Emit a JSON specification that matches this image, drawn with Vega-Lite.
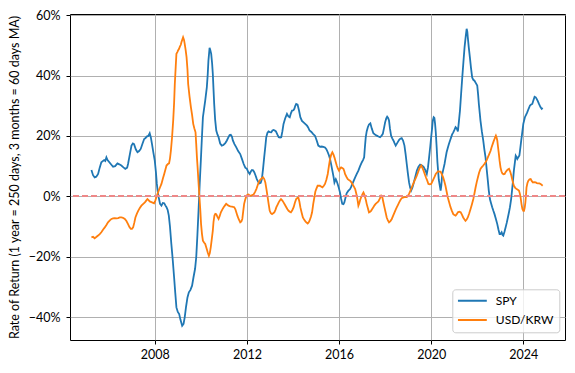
{
"$schema": "https://vega.github.io/schema/vega-lite/v6.json",
"width": 495,
"height": 326,
"autosize": {"type": "none"},
"padding": {"left": 70, "top": 14, "right": 10, "bottom": 33},
"background": "white",
"config": {
  "font": "Lato",
  "view": {"stroke": "black", "strokeWidth": 1},
  "axis": {"labelFont": "Lato", "labelFontSize": 12.5, "labelColor": "black", "titleFont": "Lato", "titleFontSize": 12.5, "titleFontWeight": "normal", "titleColor": "black", "tickColor": "black", "tickSize": 4, "tickWidth": 1, "domain": false, "gridColor": "#b0b0b0", "gridWidth": 1},
  "legend": {"orient": "none", "legendX": 382.3, "legendY": 275.3, "symbolType": "stroke", "symbolSize": 841, "symbolStrokeWidth": 2, "clipHeight": 12, "symbolOffset": -1, "labelOffset": 8, "labelAlign": "left", "labelBaseline": "middle", "labelFont": "Lato", "labelFontSize": 12, "labelColor": "black", "padding": 5.5, "rowPadding": 7.3, "strokeColor": "#cccccc", "fillColor": "rgba(255,255,255,0.8)", "cornerRadius": 3}
},
"data": {"values": [
{"year":2005.25,"ret":8.7,"series":"SPY"},{"year":2005.32,"ret":7.0,"series":"SPY"},{"year":2005.39,"ret":6.3,"series":"SPY"},{"year":2005.46,"ret":6.5,"series":"SPY"},{"year":2005.54,"ret":7.4,"series":"SPY"},{"year":2005.61,"ret":9.5,"series":"SPY"},{"year":2005.68,"ret":11.3,"series":"SPY"},{"year":2005.80,"ret":12.0,"series":"SPY"},{"year":2005.85,"ret":11.7,"series":"SPY"},{"year":2005.90,"ret":12.9,"series":"SPY"},{"year":2005.95,"ret":12.0,"series":"SPY"},{"year":2006.09,"ret":10.7,"series":"SPY"},{"year":2006.19,"ret":9.8,"series":"SPY"},{"year":2006.28,"ret":10.0,"series":"SPY"},{"year":2006.38,"ret":10.9,"series":"SPY"},{"year":2006.46,"ret":10.6,"series":"SPY"},{"year":2006.55,"ret":10.2,"series":"SPY"},{"year":2006.64,"ret":9.6,"series":"SPY"},{"year":2006.72,"ret":9.1,"series":"SPY"},{"year":2006.80,"ret":9.5,"series":"SPY"},{"year":2006.84,"ret":10.7,"series":"SPY"},{"year":2006.92,"ret":14.0,"series":"SPY"},{"year":2006.99,"ret":16.8,"series":"SPY"},{"year":2007.05,"ret":17.5,"series":"SPY"},{"year":2007.10,"ret":17.3,"series":"SPY"},{"year":2007.18,"ret":15.5,"series":"SPY"},{"year":2007.25,"ret":14.6,"series":"SPY"},{"year":2007.32,"ret":15.0,"series":"SPY"},{"year":2007.39,"ret":15.7,"series":"SPY"},{"year":2007.47,"ret":17.5,"series":"SPY"},{"year":2007.54,"ret":19.0,"series":"SPY"},{"year":2007.60,"ret":19.3,"series":"SPY"},{"year":2007.65,"ret":19.8,"series":"SPY"},{"year":2007.72,"ret":20.0,"series":"SPY"},{"year":2007.78,"ret":20.9,"series":"SPY"},{"year":2007.83,"ret":19.5,"series":"SPY"},{"year":2007.88,"ret":17.3,"series":"SPY"},{"year":2007.94,"ret":14.5,"series":"SPY"},{"year":2008.00,"ret":11.8,"series":"SPY"},{"year":2008.05,"ret":8.0,"series":"SPY"},{"year":2008.09,"ret":4.1,"series":"SPY"},{"year":2008.13,"ret":1.5,"series":"SPY"},{"year":2008.17,"ret":-0.3,"series":"SPY"},{"year":2008.23,"ret":-2.5,"series":"SPY"},{"year":2008.29,"ret":-3.1,"series":"SPY"},{"year":2008.35,"ret":-2.2,"series":"SPY"},{"year":2008.41,"ret":-2.3,"series":"SPY"},{"year":2008.46,"ret":-3.0,"series":"SPY"},{"year":2008.51,"ret":-3.6,"series":"SPY"},{"year":2008.56,"ret":-4.5,"series":"SPY"},{"year":2008.61,"ret":-6.4,"series":"SPY"},{"year":2008.66,"ret":-10.0,"series":"SPY"},{"year":2008.72,"ret":-15.8,"series":"SPY"},{"year":2008.78,"ret":-21.0,"series":"SPY"},{"year":2008.84,"ret":-26.9,"series":"SPY"},{"year":2008.89,"ret":-32.0,"series":"SPY"},{"year":2008.94,"ret":-36.8,"series":"SPY"},{"year":2009.00,"ret":-38.3,"series":"SPY"},{"year":2009.06,"ret":-39.0,"series":"SPY"},{"year":2009.12,"ret":-41.0,"series":"SPY"},{"year":2009.19,"ret":-42.9,"series":"SPY"},{"year":2009.25,"ret":-42.3,"series":"SPY"},{"year":2009.30,"ret":-40.1,"series":"SPY"},{"year":2009.36,"ret":-36.5,"series":"SPY"},{"year":2009.42,"ret":-33.5,"series":"SPY"},{"year":2009.48,"ret":-31.8,"series":"SPY"},{"year":2009.55,"ret":-31.0,"series":"SPY"},{"year":2009.62,"ret":-29.6,"series":"SPY"},{"year":2009.68,"ret":-26.9,"series":"SPY"},{"year":2009.75,"ret":-24.0,"series":"SPY"},{"year":2009.80,"ret":-20.2,"series":"SPY"},{"year":2009.85,"ret":-13.0,"series":"SPY"},{"year":2009.90,"ret":-4.8,"series":"SPY"},{"year":2009.95,"ret":4.0,"series":"SPY"},{"year":2010.00,"ret":11.8,"series":"SPY"},{"year":2010.05,"ret":20.0,"series":"SPY"},{"year":2010.09,"ret":26.2,"series":"SPY"},{"year":2010.14,"ret":29.0,"series":"SPY"},{"year":2010.19,"ret":31.7,"series":"SPY"},{"year":2010.26,"ret":36.1,"series":"SPY"},{"year":2010.30,"ret":40.5,"series":"SPY"},{"year":2010.33,"ret":45.0,"series":"SPY"},{"year":2010.38,"ret":49.2,"series":"SPY"},{"year":2010.41,"ret":48.5,"series":"SPY"},{"year":2010.45,"ret":47.2,"series":"SPY"},{"year":2010.49,"ret":44.0,"series":"SPY"},{"year":2010.52,"ret":40.6,"series":"SPY"},{"year":2010.55,"ret":35.5,"series":"SPY"},{"year":2010.58,"ret":30.6,"series":"SPY"},{"year":2010.62,"ret":25.5,"series":"SPY"},{"year":2010.67,"ret":21.8,"series":"SPY"},{"year":2010.72,"ret":20.5,"series":"SPY"},{"year":2010.77,"ret":19.6,"series":"SPY"},{"year":2010.84,"ret":17.5,"series":"SPY"},{"year":2010.91,"ret":16.8,"series":"SPY"},{"year":2010.98,"ret":17.0,"series":"SPY"},{"year":2011.06,"ret":17.6,"series":"SPY"},{"year":2011.13,"ret":18.5,"series":"SPY"},{"year":2011.20,"ret":19.6,"series":"SPY"},{"year":2011.25,"ret":20.3,"series":"SPY"},{"year":2011.30,"ret":20.4,"series":"SPY"},{"year":2011.35,"ret":19.8,"series":"SPY"},{"year":2011.39,"ret":18.5,"series":"SPY"},{"year":2011.46,"ret":17.3,"series":"SPY"},{"year":2011.54,"ret":16.2,"series":"SPY"},{"year":2011.62,"ret":15.0,"series":"SPY"},{"year":2011.71,"ret":14.0,"series":"SPY"},{"year":2011.78,"ret":12.5,"series":"SPY"},{"year":2011.86,"ret":10.7,"series":"SPY"},{"year":2011.93,"ret":9.5,"series":"SPY"},{"year":2012.00,"ret":9.1,"series":"SPY"},{"year":2012.06,"ret":8.0,"series":"SPY"},{"year":2012.12,"ret":7.4,"series":"SPY"},{"year":2012.17,"ret":8.2,"series":"SPY"},{"year":2012.22,"ret":8.7,"series":"SPY"},{"year":2012.27,"ret":8.6,"series":"SPY"},{"year":2012.32,"ret":8.0,"series":"SPY"},{"year":2012.38,"ret":6.8,"series":"SPY"},{"year":2012.43,"ret":5.7,"series":"SPY"},{"year":2012.49,"ret":4.8,"series":"SPY"},{"year":2012.54,"ret":4.3,"series":"SPY"},{"year":2012.60,"ret":4.5,"series":"SPY"},{"year":2012.65,"ret":5.7,"series":"SPY"},{"year":2012.70,"ret":9.0,"series":"SPY"},{"year":2012.75,"ret":12.9,"series":"SPY"},{"year":2012.80,"ret":16.5,"series":"SPY"},{"year":2012.84,"ret":19.6,"series":"SPY"},{"year":2012.89,"ret":21.0,"series":"SPY"},{"year":2012.94,"ret":21.5,"series":"SPY"},{"year":2013.00,"ret":21.3,"series":"SPY"},{"year":2013.06,"ret":21.2,"series":"SPY"},{"year":2013.11,"ret":21.8,"series":"SPY"},{"year":2013.16,"ret":22.0,"series":"SPY"},{"year":2013.21,"ret":21.8,"series":"SPY"},{"year":2013.26,"ret":21.5,"series":"SPY"},{"year":2013.32,"ret":20.5,"series":"SPY"},{"year":2013.38,"ret":19.6,"series":"SPY"},{"year":2013.44,"ret":19.5,"series":"SPY"},{"year":2013.49,"ret":19.6,"series":"SPY"},{"year":2013.54,"ret":21.5,"series":"SPY"},{"year":2013.59,"ret":24.0,"series":"SPY"},{"year":2013.66,"ret":25.8,"series":"SPY"},{"year":2013.74,"ret":27.3,"series":"SPY"},{"year":2013.80,"ret":26.5,"series":"SPY"},{"year":2013.86,"ret":26.2,"series":"SPY"},{"year":2013.91,"ret":27.5,"series":"SPY"},{"year":2013.96,"ret":28.4,"series":"SPY"},{"year":2014.02,"ret":28.5,"series":"SPY"},{"year":2014.06,"ret":29.0,"series":"SPY"},{"year":2014.10,"ret":30.0,"series":"SPY"},{"year":2014.14,"ret":30.6,"series":"SPY"},{"year":2014.20,"ret":30.4,"series":"SPY"},{"year":2014.26,"ret":28.5,"series":"SPY"},{"year":2014.32,"ret":26.2,"series":"SPY"},{"year":2014.39,"ret":25.0,"series":"SPY"},{"year":2014.46,"ret":24.5,"series":"SPY"},{"year":2014.53,"ret":24.0,"series":"SPY"},{"year":2014.61,"ret":23.4,"series":"SPY"},{"year":2014.66,"ret":22.8,"series":"SPY"},{"year":2014.72,"ret":21.8,"series":"SPY"},{"year":2014.80,"ret":21.3,"series":"SPY"},{"year":2014.87,"ret":20.7,"series":"SPY"},{"year":2014.96,"ret":20.0,"series":"SPY"},{"year":2015.03,"ret":18.5,"series":"SPY"},{"year":2015.10,"ret":16.8,"series":"SPY"},{"year":2015.18,"ret":16.4,"series":"SPY"},{"year":2015.25,"ret":16.5,"series":"SPY"},{"year":2015.32,"ret":16.4,"series":"SPY"},{"year":2015.39,"ret":16.2,"series":"SPY"},{"year":2015.45,"ret":15.6,"series":"SPY"},{"year":2015.51,"ret":14.6,"series":"SPY"},{"year":2015.56,"ret":13.6,"series":"SPY"},{"year":2015.61,"ret":12.4,"series":"SPY"},{"year":2015.66,"ret":10.5,"series":"SPY"},{"year":2015.71,"ret":8.5,"series":"SPY"},{"year":2015.76,"ret":6.5,"series":"SPY"},{"year":2015.80,"ret":4.6,"series":"SPY"},{"year":2015.83,"ret":5.2,"series":"SPY"},{"year":2015.86,"ret":5.7,"series":"SPY"},{"year":2015.90,"ret":5.0,"series":"SPY"},{"year":2015.94,"ret":4.1,"series":"SPY"},{"year":2015.99,"ret":2.8,"series":"SPY"},{"year":2016.04,"ret":1.3,"series":"SPY"},{"year":2016.09,"ret":-0.8,"series":"SPY"},{"year":2016.14,"ret":-2.5,"series":"SPY"},{"year":2016.19,"ret":-2.6,"series":"SPY"},{"year":2016.23,"ret":-2.0,"series":"SPY"},{"year":2016.28,"ret":-0.5,"series":"SPY"},{"year":2016.33,"ret":1.0,"series":"SPY"},{"year":2016.40,"ret":1.8,"series":"SPY"},{"year":2016.48,"ret":2.4,"series":"SPY"},{"year":2016.53,"ret":3.2,"series":"SPY"},{"year":2016.58,"ret":4.1,"series":"SPY"},{"year":2016.64,"ret":5.2,"series":"SPY"},{"year":2016.70,"ret":6.3,"series":"SPY"},{"year":2016.77,"ret":7.4,"series":"SPY"},{"year":2016.84,"ret":8.5,"series":"SPY"},{"year":2016.91,"ret":9.9,"series":"SPY"},{"year":2016.99,"ret":11.3,"series":"SPY"},{"year":2017.04,"ret":12.0,"series":"SPY"},{"year":2017.09,"ret":12.9,"series":"SPY"},{"year":2017.12,"ret":16.0,"series":"SPY"},{"year":2017.16,"ret":19.6,"series":"SPY"},{"year":2017.20,"ret":21.5,"series":"SPY"},{"year":2017.25,"ret":22.9,"series":"SPY"},{"year":2017.30,"ret":23.8,"series":"SPY"},{"year":2017.36,"ret":24.2,"series":"SPY"},{"year":2017.42,"ret":22.5,"series":"SPY"},{"year":2017.49,"ret":20.9,"series":"SPY"},{"year":2017.56,"ret":20.5,"series":"SPY"},{"year":2017.64,"ret":20.1,"series":"SPY"},{"year":2017.71,"ret":19.8,"series":"SPY"},{"year":2017.78,"ret":19.6,"series":"SPY"},{"year":2017.84,"ret":20.0,"series":"SPY"},{"year":2017.90,"ret":20.7,"series":"SPY"},{"year":2017.95,"ret":22.5,"series":"SPY"},{"year":2018.00,"ret":24.5,"series":"SPY"},{"year":2018.05,"ret":25.8,"series":"SPY"},{"year":2018.09,"ret":26.4,"series":"SPY"},{"year":2018.13,"ret":26.0,"series":"SPY"},{"year":2018.17,"ret":25.1,"series":"SPY"},{"year":2018.21,"ret":22.5,"series":"SPY"},{"year":2018.26,"ret":20.1,"series":"SPY"},{"year":2018.31,"ret":19.2,"series":"SPY"},{"year":2018.36,"ret":18.5,"series":"SPY"},{"year":2018.41,"ret":17.6,"series":"SPY"},{"year":2018.46,"ret":16.8,"series":"SPY"},{"year":2018.53,"ret":17.7,"series":"SPY"},{"year":2018.61,"ret":18.7,"series":"SPY"},{"year":2018.66,"ret":19.1,"series":"SPY"},{"year":2018.72,"ret":19.3,"series":"SPY"},{"year":2018.78,"ret":18.5,"series":"SPY"},{"year":2018.84,"ret":16.8,"series":"SPY"},{"year":2018.89,"ret":14.0,"series":"SPY"},{"year":2018.94,"ret":10.7,"series":"SPY"},{"year":2018.99,"ret":7.5,"series":"SPY"},{"year":2019.04,"ret":4.6,"series":"SPY"},{"year":2019.09,"ret":2.8,"series":"SPY"},{"year":2019.13,"ret":1.9,"series":"SPY"},{"year":2019.18,"ret":2.8,"series":"SPY"},{"year":2019.23,"ret":4.1,"series":"SPY"},{"year":2019.30,"ret":6.2,"series":"SPY"},{"year":2019.38,"ret":8.5,"series":"SPY"},{"year":2019.45,"ret":9.8,"series":"SPY"},{"year":2019.52,"ret":10.5,"series":"SPY"},{"year":2019.60,"ret":10.2,"series":"SPY"},{"year":2019.67,"ret":9.8,"series":"SPY"},{"year":2019.74,"ret":8.8,"series":"SPY"},{"year":2019.81,"ret":7.4,"series":"SPY"},{"year":2019.86,"ret":9.5,"series":"SPY"},{"year":2019.91,"ret":12.9,"series":"SPY"},{"year":2019.96,"ret":16.5,"series":"SPY"},{"year":2020.00,"ret":19.6,"series":"SPY"},{"year":2020.04,"ret":22.5,"series":"SPY"},{"year":2020.07,"ret":25.1,"series":"SPY"},{"year":2020.11,"ret":26.2,"series":"SPY"},{"year":2020.14,"ret":26.0,"series":"SPY"},{"year":2020.17,"ret":24.0,"series":"SPY"},{"year":2020.20,"ret":21.2,"series":"SPY"},{"year":2020.24,"ret":16.0,"series":"SPY"},{"year":2020.27,"ret":11.5,"series":"SPY"},{"year":2020.33,"ret":5.5,"series":"SPY"},{"year":2020.41,"ret":1.9,"series":"SPY"},{"year":2020.44,"ret":3.5,"series":"SPY"},{"year":2020.48,"ret":7.4,"series":"SPY"},{"year":2020.53,"ret":9.0,"series":"SPY"},{"year":2020.58,"ret":10.7,"series":"SPY"},{"year":2020.62,"ret":12.5,"series":"SPY"},{"year":2020.67,"ret":14.6,"series":"SPY"},{"year":2020.72,"ret":16.0,"series":"SPY"},{"year":2020.77,"ret":17.3,"series":"SPY"},{"year":2020.82,"ret":18.5,"series":"SPY"},{"year":2020.87,"ret":19.6,"series":"SPY"},{"year":2020.91,"ret":20.5,"series":"SPY"},{"year":2020.96,"ret":21.2,"series":"SPY"},{"year":2021.01,"ret":22.0,"series":"SPY"},{"year":2021.06,"ret":22.9,"series":"SPY"},{"year":2021.11,"ret":22.5,"series":"SPY"},{"year":2021.16,"ret":21.5,"series":"SPY"},{"year":2021.20,"ret":24.5,"series":"SPY"},{"year":2021.25,"ret":28.4,"series":"SPY"},{"year":2021.30,"ret":34.0,"series":"SPY"},{"year":2021.35,"ret":39.4,"series":"SPY"},{"year":2021.40,"ret":44.5,"series":"SPY"},{"year":2021.45,"ret":49.4,"series":"SPY"},{"year":2021.50,"ret":53.0,"series":"SPY"},{"year":2021.54,"ret":55.5,"series":"SPY"},{"year":2021.57,"ret":54.5,"series":"SPY"},{"year":2021.59,"ret":52.7,"series":"SPY"},{"year":2021.63,"ret":49.5,"series":"SPY"},{"year":2021.68,"ret":46.1,"series":"SPY"},{"year":2021.73,"ret":42.5,"series":"SPY"},{"year":2021.78,"ret":39.4,"series":"SPY"},{"year":2021.83,"ret":38.6,"series":"SPY"},{"year":2021.88,"ret":38.3,"series":"SPY"},{"year":2021.94,"ret":37.5,"series":"SPY"},{"year":2022.00,"ret":36.7,"series":"SPY"},{"year":2022.04,"ret":33.5,"series":"SPY"},{"year":2022.07,"ret":30.6,"series":"SPY"},{"year":2022.11,"ret":27.5,"series":"SPY"},{"year":2022.14,"ret":25.1,"series":"SPY"},{"year":2022.20,"ret":21.5,"series":"SPY"},{"year":2022.26,"ret":18.5,"series":"SPY"},{"year":2022.31,"ret":15.5,"series":"SPY"},{"year":2022.36,"ret":12.9,"series":"SPY"},{"year":2022.41,"ret":9.0,"series":"SPY"},{"year":2022.46,"ret":5.2,"series":"SPY"},{"year":2022.50,"ret":2.0,"series":"SPY"},{"year":2022.55,"ret":-0.9,"series":"SPY"},{"year":2022.60,"ret":-2.3,"series":"SPY"},{"year":2022.65,"ret":-3.6,"series":"SPY"},{"year":2022.70,"ret":-4.8,"series":"SPY"},{"year":2022.75,"ret":-5.9,"series":"SPY"},{"year":2022.81,"ret":-7.5,"series":"SPY"},{"year":2022.87,"ret":-9.2,"series":"SPY"},{"year":2022.92,"ret":-11.0,"series":"SPY"},{"year":2022.97,"ret":-12.5,"series":"SPY"},{"year":2023.01,"ret":-12.5,"series":"SPY"},{"year":2023.06,"ret":-11.9,"series":"SPY"},{"year":2023.10,"ret":-12.8,"series":"SPY"},{"year":2023.13,"ret":-13.0,"series":"SPY"},{"year":2023.18,"ret":-11.8,"series":"SPY"},{"year":2023.23,"ret":-10.3,"series":"SPY"},{"year":2023.28,"ret":-8.8,"series":"SPY"},{"year":2023.33,"ret":-7.0,"series":"SPY"},{"year":2023.38,"ret":-5.2,"series":"SPY"},{"year":2023.42,"ret":-3.6,"series":"SPY"},{"year":2023.47,"ret":-1.0,"series":"SPY"},{"year":2023.51,"ret":1.9,"series":"SPY"},{"year":2023.55,"ret":5.0,"series":"SPY"},{"year":2023.59,"ret":8.5,"series":"SPY"},{"year":2023.63,"ret":11.0,"series":"SPY"},{"year":2023.67,"ret":13.5,"series":"SPY"},{"year":2023.71,"ret":13.0,"series":"SPY"},{"year":2023.74,"ret":12.4,"series":"SPY"},{"year":2023.79,"ret":13.0,"series":"SPY"},{"year":2023.83,"ret":13.5,"series":"SPY"},{"year":2023.87,"ret":16.0,"series":"SPY"},{"year":2023.91,"ret":18.5,"series":"SPY"},{"year":2023.96,"ret":21.5,"series":"SPY"},{"year":2024.00,"ret":24.0,"series":"SPY"},{"year":2024.07,"ret":26.2,"series":"SPY"},{"year":2024.12,"ret":27.0,"series":"SPY"},{"year":2024.17,"ret":27.8,"series":"SPY"},{"year":2024.23,"ret":29.0,"series":"SPY"},{"year":2024.29,"ret":30.1,"series":"SPY"},{"year":2024.34,"ret":30.4,"series":"SPY"},{"year":2024.39,"ret":30.6,"series":"SPY"},{"year":2024.44,"ret":31.8,"series":"SPY"},{"year":2024.49,"ret":33.0,"series":"SPY"},{"year":2024.54,"ret":32.8,"series":"SPY"},{"year":2024.58,"ret":32.3,"series":"SPY"},{"year":2024.63,"ret":31.5,"series":"SPY"},{"year":2024.68,"ret":30.6,"series":"SPY"},{"year":2024.75,"ret":29.5,"series":"SPY"},{"year":2024.80,"ret":29.0,"series":"SPY"},{"year":2024.84,"ret":29.3,"series":"SPY"},
{"year":2005.25,"ret":-13.6,"series":"USD/KRW"},{"year":2005.32,"ret":-13.4,"series":"USD/KRW"},{"year":2005.39,"ret":-13.9,"series":"USD/KRW"},{"year":2005.46,"ret":-13.5,"series":"USD/KRW"},{"year":2005.54,"ret":-13.0,"series":"USD/KRW"},{"year":2005.61,"ret":-12.5,"series":"USD/KRW"},{"year":2005.68,"ret":-11.9,"series":"USD/KRW"},{"year":2005.76,"ret":-11.0,"series":"USD/KRW"},{"year":2005.83,"ret":-10.3,"series":"USD/KRW"},{"year":2005.90,"ret":-9.5,"series":"USD/KRW"},{"year":2005.97,"ret":-8.6,"series":"USD/KRW"},{"year":2006.05,"ret":-8.0,"series":"USD/KRW"},{"year":2006.12,"ret":-7.5,"series":"USD/KRW"},{"year":2006.19,"ret":-7.3,"series":"USD/KRW"},{"year":2006.26,"ret":-7.2,"series":"USD/KRW"},{"year":2006.34,"ret":-7.3,"series":"USD/KRW"},{"year":2006.41,"ret":-7.2,"series":"USD/KRW"},{"year":2006.48,"ret":-7.0,"series":"USD/KRW"},{"year":2006.55,"ret":-7.0,"series":"USD/KRW"},{"year":2006.62,"ret":-7.1,"series":"USD/KRW"},{"year":2006.70,"ret":-7.5,"series":"USD/KRW"},{"year":2006.77,"ret":-8.2,"series":"USD/KRW"},{"year":2006.84,"ret":-9.2,"series":"USD/KRW"},{"year":2006.90,"ret":-10.2,"series":"USD/KRW"},{"year":2006.96,"ret":-10.8,"series":"USD/KRW"},{"year":2007.01,"ret":-10.8,"series":"USD/KRW"},{"year":2007.06,"ret":-10.3,"series":"USD/KRW"},{"year":2007.11,"ret":-8.8,"series":"USD/KRW"},{"year":2007.16,"ret":-7.0,"series":"USD/KRW"},{"year":2007.22,"ret":-5.8,"series":"USD/KRW"},{"year":2007.28,"ret":-4.8,"series":"USD/KRW"},{"year":2007.35,"ret":-3.9,"series":"USD/KRW"},{"year":2007.42,"ret":-3.1,"series":"USD/KRW"},{"year":2007.50,"ret":-2.5,"series":"USD/KRW"},{"year":2007.57,"ret":-2.0,"series":"USD/KRW"},{"year":2007.62,"ret":-1.5,"series":"USD/KRW"},{"year":2007.68,"ret":-0.9,"series":"USD/KRW"},{"year":2007.73,"ret":-1.3,"series":"USD/KRW"},{"year":2007.78,"ret":-1.7,"series":"USD/KRW"},{"year":2007.88,"ret":-2.0,"series":"USD/KRW"},{"year":2007.97,"ret":-2.3,"series":"USD/KRW"},{"year":2008.02,"ret":-1.5,"series":"USD/KRW"},{"year":2008.07,"ret":-0.3,"series":"USD/KRW"},{"year":2008.12,"ret":0.8,"series":"USD/KRW"},{"year":2008.17,"ret":1.9,"series":"USD/KRW"},{"year":2008.23,"ret":3.0,"series":"USD/KRW"},{"year":2008.29,"ret":4.1,"series":"USD/KRW"},{"year":2008.35,"ret":5.8,"series":"USD/KRW"},{"year":2008.41,"ret":7.4,"series":"USD/KRW"},{"year":2008.46,"ret":8.8,"series":"USD/KRW"},{"year":2008.51,"ret":10.2,"series":"USD/KRW"},{"year":2008.57,"ret":10.7,"series":"USD/KRW"},{"year":2008.62,"ret":10.9,"series":"USD/KRW"},{"year":2008.66,"ret":12.5,"series":"USD/KRW"},{"year":2008.70,"ret":15.1,"series":"USD/KRW"},{"year":2008.75,"ret":19.5,"series":"USD/KRW"},{"year":2008.80,"ret":25.1,"series":"USD/KRW"},{"year":2008.84,"ret":31.0,"series":"USD/KRW"},{"year":2008.87,"ret":37.2,"series":"USD/KRW"},{"year":2008.91,"ret":43.0,"series":"USD/KRW"},{"year":2008.94,"ret":47.2,"series":"USD/KRW"},{"year":2008.98,"ret":47.8,"series":"USD/KRW"},{"year":2009.01,"ret":48.3,"series":"USD/KRW"},{"year":2009.05,"ret":48.8,"series":"USD/KRW"},{"year":2009.09,"ret":49.6,"series":"USD/KRW"},{"year":2009.13,"ret":50.2,"series":"USD/KRW"},{"year":2009.16,"ret":51.1,"series":"USD/KRW"},{"year":2009.20,"ret":52.0,"series":"USD/KRW"},{"year":2009.23,"ret":52.7,"series":"USD/KRW"},{"year":2009.27,"ret":51.8,"series":"USD/KRW"},{"year":2009.30,"ret":50.5,"series":"USD/KRW"},{"year":2009.34,"ret":48.5,"series":"USD/KRW"},{"year":2009.38,"ret":46.1,"series":"USD/KRW"},{"year":2009.42,"ret":42.0,"series":"USD/KRW"},{"year":2009.45,"ret":37.2,"series":"USD/KRW"},{"year":2009.51,"ret":33.0,"series":"USD/KRW"},{"year":2009.57,"ret":29.5,"series":"USD/KRW"},{"year":2009.62,"ret":27.0,"series":"USD/KRW"},{"year":2009.67,"ret":24.0,"series":"USD/KRW"},{"year":2009.72,"ret":22.5,"series":"USD/KRW"},{"year":2009.77,"ret":21.2,"series":"USD/KRW"},{"year":2009.80,"ret":17.3,"series":"USD/KRW"},{"year":2009.83,"ret":13.0,"series":"USD/KRW"},{"year":2009.86,"ret":9.6,"series":"USD/KRW"},{"year":2009.90,"ret":4.5,"series":"USD/KRW"},{"year":2009.94,"ret":-0.3,"series":"USD/KRW"},{"year":2009.98,"ret":-5.0,"series":"USD/KRW"},{"year":2010.01,"ret":-9.2,"series":"USD/KRW"},{"year":2010.05,"ret":-12.5,"series":"USD/KRW"},{"year":2010.09,"ret":-14.7,"series":"USD/KRW"},{"year":2010.14,"ret":-15.3,"series":"USD/KRW"},{"year":2010.19,"ret":-15.8,"series":"USD/KRW"},{"year":2010.26,"ret":-17.5,"series":"USD/KRW"},{"year":2010.30,"ret":-18.6,"series":"USD/KRW"},{"year":2010.35,"ret":-19.7,"series":"USD/KRW"},{"year":2010.39,"ret":-18.8,"series":"USD/KRW"},{"year":2010.43,"ret":-16.9,"series":"USD/KRW"},{"year":2010.47,"ret":-14.5,"series":"USD/KRW"},{"year":2010.52,"ret":-11.4,"series":"USD/KRW"},{"year":2010.55,"ret":-8.5,"series":"USD/KRW"},{"year":2010.59,"ret":-6.4,"series":"USD/KRW"},{"year":2010.63,"ret":-5.8,"series":"USD/KRW"},{"year":2010.67,"ret":-5.9,"series":"USD/KRW"},{"year":2010.72,"ret":-6.8,"series":"USD/KRW"},{"year":2010.77,"ret":-7.5,"series":"USD/KRW"},{"year":2010.82,"ret":-6.5,"series":"USD/KRW"},{"year":2010.87,"ret":-5.3,"series":"USD/KRW"},{"year":2010.93,"ret":-4.4,"series":"USD/KRW"},{"year":2010.99,"ret":-3.6,"series":"USD/KRW"},{"year":2011.05,"ret":-3.0,"series":"USD/KRW"},{"year":2011.10,"ret":-2.5,"series":"USD/KRW"},{"year":2011.15,"ret":-2.8,"series":"USD/KRW"},{"year":2011.20,"ret":-3.1,"series":"USD/KRW"},{"year":2011.28,"ret":-3.3,"series":"USD/KRW"},{"year":2011.35,"ret":-3.4,"series":"USD/KRW"},{"year":2011.45,"ret":-3.6,"series":"USD/KRW"},{"year":2011.50,"ret":-4.3,"series":"USD/KRW"},{"year":2011.54,"ret":-5.3,"series":"USD/KRW"},{"year":2011.59,"ret":-6.5,"series":"USD/KRW"},{"year":2011.64,"ret":-7.5,"series":"USD/KRW"},{"year":2011.71,"ret":-8.6,"series":"USD/KRW"},{"year":2011.76,"ret":-8.3,"series":"USD/KRW"},{"year":2011.80,"ret":-7.5,"series":"USD/KRW"},{"year":2011.84,"ret":-5.0,"series":"USD/KRW"},{"year":2011.88,"ret":-2.5,"series":"USD/KRW"},{"year":2011.93,"ret":-1.0,"series":"USD/KRW"},{"year":2011.97,"ret":-0.1,"series":"USD/KRW"},{"year":2012.02,"ret":0.5,"series":"USD/KRW"},{"year":2012.07,"ret":0.6,"series":"USD/KRW"},{"year":2012.12,"ret":0.3,"series":"USD/KRW"},{"year":2012.17,"ret":0.2,"series":"USD/KRW"},{"year":2012.23,"ret":0.4,"series":"USD/KRW"},{"year":2012.29,"ret":0.6,"series":"USD/KRW"},{"year":2012.35,"ret":1.4,"series":"USD/KRW"},{"year":2012.41,"ret":2.4,"series":"USD/KRW"},{"year":2012.46,"ret":3.5,"series":"USD/KRW"},{"year":2012.51,"ret":4.6,"series":"USD/KRW"},{"year":2012.56,"ret":5.3,"series":"USD/KRW"},{"year":2012.61,"ret":5.7,"series":"USD/KRW"},{"year":2012.66,"ret":6.1,"series":"USD/KRW"},{"year":2012.70,"ret":6.3,"series":"USD/KRW"},{"year":2012.75,"ret":5.8,"series":"USD/KRW"},{"year":2012.80,"ret":4.6,"series":"USD/KRW"},{"year":2012.85,"ret":2.3,"series":"USD/KRW"},{"year":2012.90,"ret":-0.3,"series":"USD/KRW"},{"year":2012.95,"ret":-2.8,"series":"USD/KRW"},{"year":2012.99,"ret":-4.8,"series":"USD/KRW"},{"year":2013.04,"ret":-5.6,"series":"USD/KRW"},{"year":2013.09,"ret":-5.9,"series":"USD/KRW"},{"year":2013.14,"ret":-5.6,"series":"USD/KRW"},{"year":2013.19,"ret":-5.3,"series":"USD/KRW"},{"year":2013.24,"ret":-4.5,"series":"USD/KRW"},{"year":2013.28,"ret":-3.6,"series":"USD/KRW"},{"year":2013.33,"ret":-2.8,"series":"USD/KRW"},{"year":2013.38,"ret":-2.0,"series":"USD/KRW"},{"year":2013.43,"ret":-1.4,"series":"USD/KRW"},{"year":2013.48,"ret":-0.9,"series":"USD/KRW"},{"year":2013.54,"ret":-1.4,"series":"USD/KRW"},{"year":2013.59,"ret":-2.0,"series":"USD/KRW"},{"year":2013.65,"ret":-2.8,"series":"USD/KRW"},{"year":2013.71,"ret":-3.6,"series":"USD/KRW"},{"year":2013.76,"ret":-4.3,"series":"USD/KRW"},{"year":2013.81,"ret":-4.8,"series":"USD/KRW"},{"year":2013.86,"ret":-5.1,"series":"USD/KRW"},{"year":2013.91,"ret":-5.3,"series":"USD/KRW"},{"year":2013.97,"ret":-4.6,"series":"USD/KRW"},{"year":2014.03,"ret":-3.6,"series":"USD/KRW"},{"year":2014.08,"ret":-2.2,"series":"USD/KRW"},{"year":2014.14,"ret":-0.9,"series":"USD/KRW"},{"year":2014.19,"ret":-0.5,"series":"USD/KRW"},{"year":2014.23,"ret":-0.3,"series":"USD/KRW"},{"year":2014.28,"ret":-1.8,"series":"USD/KRW"},{"year":2014.32,"ret":-3.6,"series":"USD/KRW"},{"year":2014.38,"ret":-5.5,"series":"USD/KRW"},{"year":2014.43,"ret":-7.0,"series":"USD/KRW"},{"year":2014.49,"ret":-7.8,"series":"USD/KRW"},{"year":2014.54,"ret":-8.3,"series":"USD/KRW"},{"year":2014.59,"ret":-8.7,"series":"USD/KRW"},{"year":2014.64,"ret":-9.0,"series":"USD/KRW"},{"year":2014.68,"ret":-8.7,"series":"USD/KRW"},{"year":2014.72,"ret":-8.1,"series":"USD/KRW"},{"year":2014.78,"ret":-6.8,"series":"USD/KRW"},{"year":2014.83,"ret":-5.3,"series":"USD/KRW"},{"year":2014.88,"ret":-2.5,"series":"USD/KRW"},{"year":2014.93,"ret":-0.3,"series":"USD/KRW"},{"year":2014.97,"ret":1.5,"series":"USD/KRW"},{"year":2015.01,"ret":2.4,"series":"USD/KRW"},{"year":2015.07,"ret":3.5,"series":"USD/KRW"},{"year":2015.12,"ret":3.5,"series":"USD/KRW"},{"year":2015.17,"ret":3.5,"series":"USD/KRW"},{"year":2015.23,"ret":3.2,"series":"USD/KRW"},{"year":2015.28,"ret":3.0,"series":"USD/KRW"},{"year":2015.34,"ret":3.5,"series":"USD/KRW"},{"year":2015.39,"ret":4.1,"series":"USD/KRW"},{"year":2015.45,"ret":5.5,"series":"USD/KRW"},{"year":2015.51,"ret":7.4,"series":"USD/KRW"},{"year":2015.56,"ret":10.0,"series":"USD/KRW"},{"year":2015.61,"ret":12.4,"series":"USD/KRW"},{"year":2015.66,"ret":13.8,"series":"USD/KRW"},{"year":2015.71,"ret":14.6,"series":"USD/KRW"},{"year":2015.76,"ret":13.8,"series":"USD/KRW"},{"year":2015.80,"ret":12.9,"series":"USD/KRW"},{"year":2015.85,"ret":11.5,"series":"USD/KRW"},{"year":2015.90,"ret":10.2,"series":"USD/KRW"},{"year":2015.95,"ret":9.2,"series":"USD/KRW"},{"year":2016.00,"ret":8.5,"series":"USD/KRW"},{"year":2016.05,"ret":9.3,"series":"USD/KRW"},{"year":2016.09,"ret":9.6,"series":"USD/KRW"},{"year":2016.14,"ret":9.4,"series":"USD/KRW"},{"year":2016.19,"ret":9.1,"series":"USD/KRW"},{"year":2016.23,"ret":8.3,"series":"USD/KRW"},{"year":2016.26,"ret":7.4,"series":"USD/KRW"},{"year":2016.32,"ret":6.5,"series":"USD/KRW"},{"year":2016.38,"ret":5.7,"series":"USD/KRW"},{"year":2016.43,"ret":5.4,"series":"USD/KRW"},{"year":2016.48,"ret":5.2,"series":"USD/KRW"},{"year":2016.53,"ret":4.7,"series":"USD/KRW"},{"year":2016.58,"ret":4.1,"series":"USD/KRW"},{"year":2016.64,"ret":3.3,"series":"USD/KRW"},{"year":2016.70,"ret":2.4,"series":"USD/KRW"},{"year":2016.74,"ret":1.2,"series":"USD/KRW"},{"year":2016.77,"ret":0.2,"series":"USD/KRW"},{"year":2016.81,"ret":-1.5,"series":"USD/KRW"},{"year":2016.84,"ret":-3.1,"series":"USD/KRW"},{"year":2016.88,"ret":-2.3,"series":"USD/KRW"},{"year":2016.91,"ret":-1.4,"series":"USD/KRW"},{"year":2016.95,"ret":-0.5,"series":"USD/KRW"},{"year":2016.99,"ret":0.2,"series":"USD/KRW"},{"year":2017.03,"ret":0.9,"series":"USD/KRW"},{"year":2017.06,"ret":1.3,"series":"USD/KRW"},{"year":2017.10,"ret":0.6,"series":"USD/KRW"},{"year":2017.13,"ret":-0.3,"series":"USD/KRW"},{"year":2017.17,"ret":-1.4,"series":"USD/KRW"},{"year":2017.20,"ret":-2.5,"series":"USD/KRW"},{"year":2017.25,"ret":-3.9,"series":"USD/KRW"},{"year":2017.30,"ret":-5.3,"series":"USD/KRW"},{"year":2017.35,"ret":-5.1,"series":"USD/KRW"},{"year":2017.39,"ret":-4.8,"series":"USD/KRW"},{"year":2017.44,"ret":-4.2,"series":"USD/KRW"},{"year":2017.49,"ret":-3.6,"series":"USD/KRW"},{"year":2017.54,"ret":-3.0,"series":"USD/KRW"},{"year":2017.59,"ret":-2.5,"series":"USD/KRW"},{"year":2017.65,"ret":-2.1,"series":"USD/KRW"},{"year":2017.71,"ret":-1.7,"series":"USD/KRW"},{"year":2017.77,"ret":-0.8,"series":"USD/KRW"},{"year":2017.83,"ret":0.2,"series":"USD/KRW"},{"year":2017.88,"ret":-0.3,"series":"USD/KRW"},{"year":2017.92,"ret":-1.8,"series":"USD/KRW"},{"year":2017.97,"ret":-3.6,"series":"USD/KRW"},{"year":2018.02,"ret":-5.3,"series":"USD/KRW"},{"year":2018.07,"ret":-7.0,"series":"USD/KRW"},{"year":2018.12,"ret":-8.0,"series":"USD/KRW"},{"year":2018.17,"ret":-8.6,"series":"USD/KRW"},{"year":2018.23,"ret":-8.2,"series":"USD/KRW"},{"year":2018.29,"ret":-7.5,"series":"USD/KRW"},{"year":2018.35,"ret":-6.4,"series":"USD/KRW"},{"year":2018.41,"ret":-5.3,"series":"USD/KRW"},{"year":2018.46,"ret":-4.4,"series":"USD/KRW"},{"year":2018.51,"ret":-3.6,"series":"USD/KRW"},{"year":2018.56,"ret":-2.8,"series":"USD/KRW"},{"year":2018.61,"ret":-2.0,"series":"USD/KRW"},{"year":2018.66,"ret":-1.3,"series":"USD/KRW"},{"year":2018.72,"ret":-0.6,"series":"USD/KRW"},{"year":2018.78,"ret":-0.4,"series":"USD/KRW"},{"year":2018.84,"ret":-0.3,"series":"USD/KRW"},{"year":2018.89,"ret":-0.3,"series":"USD/KRW"},{"year":2018.94,"ret":-0.3,"series":"USD/KRW"},{"year":2018.99,"ret":0.2,"series":"USD/KRW"},{"year":2019.04,"ret":0.8,"series":"USD/KRW"},{"year":2019.10,"ret":1.9,"series":"USD/KRW"},{"year":2019.16,"ret":3.0,"series":"USD/KRW"},{"year":2019.22,"ret":4.1,"series":"USD/KRW"},{"year":2019.28,"ret":5.2,"series":"USD/KRW"},{"year":2019.33,"ret":6.0,"series":"USD/KRW"},{"year":2019.38,"ret":6.9,"series":"USD/KRW"},{"year":2019.43,"ret":8.0,"series":"USD/KRW"},{"year":2019.48,"ret":9.1,"series":"USD/KRW"},{"year":2019.53,"ret":9.8,"series":"USD/KRW"},{"year":2019.57,"ret":10.2,"series":"USD/KRW"},{"year":2019.62,"ret":9.4,"series":"USD/KRW"},{"year":2019.67,"ret":8.5,"series":"USD/KRW"},{"year":2019.72,"ret":7.4,"series":"USD/KRW"},{"year":2019.77,"ret":6.3,"series":"USD/KRW"},{"year":2019.83,"ret":5.2,"series":"USD/KRW"},{"year":2019.88,"ret":4.1,"series":"USD/KRW"},{"year":2019.94,"ret":4.0,"series":"USD/KRW"},{"year":2020.00,"ret":4.1,"series":"USD/KRW"},{"year":2020.05,"ret":4.9,"series":"USD/KRW"},{"year":2020.10,"ret":5.7,"series":"USD/KRW"},{"year":2020.15,"ret":6.5,"series":"USD/KRW"},{"year":2020.20,"ret":7.4,"series":"USD/KRW"},{"year":2020.25,"ret":7.9,"series":"USD/KRW"},{"year":2020.30,"ret":8.3,"series":"USD/KRW"},{"year":2020.36,"ret":8.2,"series":"USD/KRW"},{"year":2020.41,"ret":8.2,"series":"USD/KRW"},{"year":2020.47,"ret":7.2,"series":"USD/KRW"},{"year":2020.52,"ret":6.3,"series":"USD/KRW"},{"year":2020.57,"ret":5.0,"series":"USD/KRW"},{"year":2020.62,"ret":3.5,"series":"USD/KRW"},{"year":2020.67,"ret":1.6,"series":"USD/KRW"},{"year":2020.72,"ret":-0.3,"series":"USD/KRW"},{"year":2020.78,"ret":-2.0,"series":"USD/KRW"},{"year":2020.84,"ret":-3.6,"series":"USD/KRW"},{"year":2020.90,"ret":-4.8,"series":"USD/KRW"},{"year":2020.96,"ret":-5.9,"series":"USD/KRW"},{"year":2021.01,"ret":-6.2,"series":"USD/KRW"},{"year":2021.06,"ret":-6.4,"series":"USD/KRW"},{"year":2021.11,"ret":-5.9,"series":"USD/KRW"},{"year":2021.16,"ret":-5.3,"series":"USD/KRW"},{"year":2021.22,"ret":-5.1,"series":"USD/KRW"},{"year":2021.28,"ret":-5.3,"series":"USD/KRW"},{"year":2021.33,"ret":-6.0,"series":"USD/KRW"},{"year":2021.39,"ret":-7.0,"series":"USD/KRW"},{"year":2021.44,"ret":-7.6,"series":"USD/KRW"},{"year":2021.49,"ret":-8.1,"series":"USD/KRW"},{"year":2021.54,"ret":-7.7,"series":"USD/KRW"},{"year":2021.59,"ret":-7.0,"series":"USD/KRW"},{"year":2021.65,"ret":-5.7,"series":"USD/KRW"},{"year":2021.71,"ret":-4.2,"series":"USD/KRW"},{"year":2021.77,"ret":-2.6,"series":"USD/KRW"},{"year":2021.83,"ret":-0.9,"series":"USD/KRW"},{"year":2021.88,"ret":1.0,"series":"USD/KRW"},{"year":2021.93,"ret":3.0,"series":"USD/KRW"},{"year":2021.98,"ret":4.8,"series":"USD/KRW"},{"year":2022.03,"ret":6.3,"series":"USD/KRW"},{"year":2022.08,"ret":7.8,"series":"USD/KRW"},{"year":2022.14,"ret":9.1,"series":"USD/KRW"},{"year":2022.20,"ret":9.7,"series":"USD/KRW"},{"year":2022.26,"ret":10.2,"series":"USD/KRW"},{"year":2022.31,"ret":10.7,"series":"USD/KRW"},{"year":2022.36,"ret":11.3,"series":"USD/KRW"},{"year":2022.41,"ret":12.0,"series":"USD/KRW"},{"year":2022.46,"ret":12.9,"series":"USD/KRW"},{"year":2022.52,"ret":14.0,"series":"USD/KRW"},{"year":2022.58,"ret":15.1,"series":"USD/KRW"},{"year":2022.62,"ret":16.2,"series":"USD/KRW"},{"year":2022.67,"ret":17.3,"series":"USD/KRW"},{"year":2022.71,"ret":18.2,"series":"USD/KRW"},{"year":2022.75,"ret":19.0,"series":"USD/KRW"},{"year":2022.78,"ret":19.6,"series":"USD/KRW"},{"year":2022.81,"ret":20.1,"series":"USD/KRW"},{"year":2022.84,"ret":19.5,"series":"USD/KRW"},{"year":2022.87,"ret":18.5,"series":"USD/KRW"},{"year":2022.90,"ret":16.5,"series":"USD/KRW"},{"year":2022.94,"ret":14.0,"series":"USD/KRW"},{"year":2022.97,"ret":11.8,"series":"USD/KRW"},{"year":2023.01,"ret":9.6,"series":"USD/KRW"},{"year":2023.05,"ret":8.3,"series":"USD/KRW"},{"year":2023.09,"ret":7.6,"series":"USD/KRW"},{"year":2023.14,"ret":7.3,"series":"USD/KRW"},{"year":2023.19,"ret":7.4,"series":"USD/KRW"},{"year":2023.23,"ret":8.0,"series":"USD/KRW"},{"year":2023.28,"ret":8.5,"series":"USD/KRW"},{"year":2023.33,"ret":8.9,"series":"USD/KRW"},{"year":2023.38,"ret":9.1,"series":"USD/KRW"},{"year":2023.43,"ret":8.2,"series":"USD/KRW"},{"year":2023.48,"ret":6.9,"series":"USD/KRW"},{"year":2023.53,"ret":5.2,"series":"USD/KRW"},{"year":2023.59,"ret":3.5,"series":"USD/KRW"},{"year":2023.65,"ret":2.8,"series":"USD/KRW"},{"year":2023.71,"ret":2.4,"series":"USD/KRW"},{"year":2023.76,"ret":2.2,"series":"USD/KRW"},{"year":2023.81,"ret":1.9,"series":"USD/KRW"},{"year":2023.85,"ret":0.9,"series":"USD/KRW"},{"year":2023.88,"ret":-0.3,"series":"USD/KRW"},{"year":2023.92,"ret":-2.5,"series":"USD/KRW"},{"year":2023.96,"ret":-4.2,"series":"USD/KRW"},{"year":2024.00,"ret":-4.8,"series":"USD/KRW"},{"year":2024.03,"ret":-4.8,"series":"USD/KRW"},{"year":2024.06,"ret":-3.8,"series":"USD/KRW"},{"year":2024.09,"ret":-2.0,"series":"USD/KRW"},{"year":2024.12,"ret":0.8,"series":"USD/KRW"},{"year":2024.14,"ret":3.0,"series":"USD/KRW"},{"year":2024.18,"ret":4.4,"series":"USD/KRW"},{"year":2024.22,"ret":5.2,"series":"USD/KRW"},{"year":2024.27,"ret":5.6,"series":"USD/KRW"},{"year":2024.32,"ret":5.7,"series":"USD/KRW"},{"year":2024.37,"ret":5.0,"series":"USD/KRW"},{"year":2024.42,"ret":4.6,"series":"USD/KRW"},{"year":2024.48,"ret":4.7,"series":"USD/KRW"},{"year":2024.54,"ret":4.6,"series":"USD/KRW"},{"year":2024.59,"ret":4.4,"series":"USD/KRW"},{"year":2024.64,"ret":4.3,"series":"USD/KRW"},{"year":2024.70,"ret":4.3,"series":"USD/KRW"},{"year":2024.75,"ret":4.1,"series":"USD/KRW"},{"year":2024.80,"ret":3.8,"series":"USD/KRW"},{"year":2024.84,"ret":3.5,"series":"USD/KRW"}
]},
"layer": [
  {
    "mark": {"type": "line", "strokeWidth": 1.8, "clip": true},
    "encoding": {
      "x": {"field": "year", "type": "quantitative", "scale": {"domain": [2004.32, 2025.81], "nice": false, "zero": false}, "axis": {"values": [2008, 2012, 2016, 2020, 2024], "format": "d", "title": null, "labelPadding": 4, "grid": true}},
      "y": {"field": "ret", "type": "quantitative", "scale": {"domain": [-47.6, 60.4], "nice": false, "zero": false}, "axis": {"values": [-40, -20, 0, 20, 40, 60], "labelExpr": "(datum.value < 0 ? '−' : '') + abs(datum.value) + '%'", "title": "Rate of Return (1 year = 250 days, 3 months = 60 days MA)", "labelPadding": 6, "titlePadding": 7, "grid": true}},
      "color": {"field": "series", "type": "nominal", "scale": {"domain": ["SPY", "USD/KRW"], "range": ["#1f77b4", "#ff7f0e"]}, "legend": {"title": null}}
    }
  },
  {
    "mark": {"type": "rule", "color": "#ee8888", "strokeDash": [6, 3], "strokeWidth": 1.5},
    "encoding": {"y": {"datum": 0}}
  }
]
}
